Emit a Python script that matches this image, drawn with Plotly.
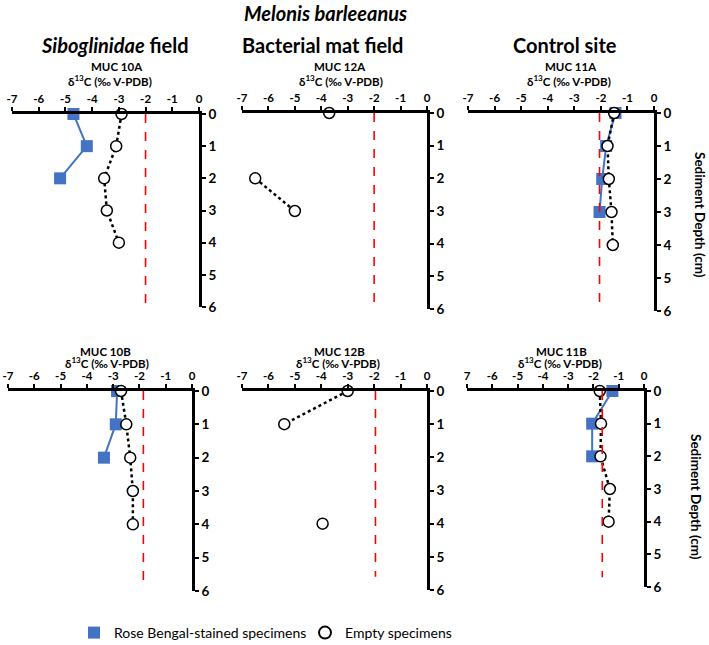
import plotly.graph_objects as go

# ---------------- data ----------------
depths = [0, 1, 2, 3, 4]

cores = ["MUC 10A", "MUC 12A", "MUC 11A", "MUC 10B", "MUC 12B", "MUC 11B"]

stained_10A = [-4.7, -4.2, -5.2, None, None]
empty_10A = [-2.9, -3.1, -3.55, -3.45, -3.0]

stained_12A = [None, None, None, None, None]
empty_12A = [-3.7, None, -6.5, -5.0, None]

stained_11A = [-1.45, -1.8, -1.95, -2.05, None]
empty_11A = [-1.5, -1.75, -1.7, -1.6, -1.55]

stained_10B = [-2.85, -2.9, -3.35, None, None]
empty_10B = [-2.7, -2.5, -2.35, -2.25, -2.25]

stained_12B = [None, None, None, None, None]
empty_12B = [-3.0, -5.4, None, None, -3.95]

stained_11B = [-1.25, -2.05, -2.05, None, None]
empty_11B = [-1.75, -1.7, -1.72, -1.35, -1.4]

stained_all = [stained_10A, stained_12A, stained_11A, stained_10B, stained_12B, stained_11B]
empty_all = [empty_10A, empty_12A, empty_11A, empty_10B, empty_12B, empty_11B]

# reference (dashed red) values and the depth where the dashed line ends
ref_values = [-2.0, -2.0, -2.05, -1.85, -1.95, -1.65]
ref_end_depth = [5.9, 5.85, 5.8, 5.7, 5.6, 5.7]

x_tickvals = [-7, -6, -5, -4, -3, -2, -1, 0]
x_ticktext = ["-7", "-6", "-5", "-4", "-3", "-2", "-1", "0"]
x_ticktext_11B = ["7", "-6", "-5", "-4", "-3", "-2", "-1", "0"]
y_tickvals = [0, 1, 2, 3, 4, 5, 6]

column_titles = ["<b><i>Siboglinidae</i> field</b>", "<b>Bacterial mat field</b>", "<b>Control site</b>"]
main_title = "<b><i>Melonis barleeanus</i></b>"
x_title = "<b>δ<sup>13</sup>C (‰ V-PDB)</b>"
y_title = "<b>Sediment Depth (cm)</b>"
legend_names = ["Rose Bengal-stained specimens", "Empty specimens"]

# ---------------- layout helpers ----------------
W, H = 709, 645


def px(x):
    return x / W


def py(y):
    return 1 - y / H


# panel boxes in screen pixels: (left, right, top, bottom)
boxes = [(12, 199, 114, 307), (242, 427, 113, 309), (468, 654, 113, 311),
         (8, 192, 391, 591), (242, 427, 391, 590), (467, 644, 391, 587)]

BLUE = "#4472C4"
FONT = "Lato"

fig = go.Figure()

for i in range(6):
    n = i + 1
    xa = "x" if n == 1 else f"x{n}"
    ya = "y" if n == 1 else f"y{n}"
    # stained
    fig.add_trace(go.Scatter(
        x=stained_all[i], y=depths, xaxis=xa, yaxis=ya, mode="lines+markers",
        line=dict(color=BLUE, width=2), connectgaps=False,
        marker=dict(symbol="square", size=12, color=BLUE, line=dict(width=0)),
        cliponaxis=False, showlegend=False, hoverinfo="skip"))
    # empty
    fig.add_trace(go.Scatter(
        x=empty_all[i], y=depths, xaxis=xa, yaxis=ya, mode="lines+markers",
        line=dict(color="black", width=2.5, dash="dot"), connectgaps=False,
        marker=dict(symbol="circle", size=11, color="white", line=dict(color="black", width=1.5)),
        cliponaxis=False, showlegend=False, hoverinfo="skip"))
    # reference dashed line
    fig.add_trace(go.Scatter(
        x=[ref_values[i], ref_values[i]], y=[0, ref_end_depth[i]], xaxis=xa, yaxis=ya,
        mode="lines", line=dict(color="#FF0000", width=1.6, dash="dash"),
        cliponaxis=False, showlegend=False, hoverinfo="skip"))

# legend dummies
fig.add_trace(go.Scatter(x=[None], y=[None], mode="markers", name=legend_names[0],
                         marker=dict(symbol="square", size=15, color=BLUE)))
fig.add_trace(go.Scatter(x=[None], y=[None], mode="markers", name=legend_names[1],
                         marker=dict(symbol="circle", size=15, color="white",
                                     line=dict(color="black", width=1.2))))

layout = dict(
    template="none",
    width=W, height=H, margin=dict(l=0, r=0, t=0, b=0, pad=0, autoexpand=False),
    paper_bgcolor="white", plot_bgcolor="white",
    font=dict(family=FONT, color="black"),
    showlegend=True,
    legend=dict(orientation="h", x=px(74), y=py(633), xanchor="left", yanchor="middle",
                entrywidth=186, entrywidthmode="pixels",
                font=dict(size=14, family=FONT), itemsizing="constant", bgcolor="rgba(0,0,0,0)"),
)

for i in range(6):
    n = i + 1
    l, r, t, b = boxes[i]
    xk = "xaxis" if n == 1 else f"xaxis{n}"
    yk = "yaxis" if n == 1 else f"yaxis{n}"
    ya = "y" if n == 1 else f"y{n}"
    xa = "x" if n == 1 else f"x{n}"
    layout[xk] = dict(
        domain=[px(l), px(r)], anchor=ya, side="top", range=[-7, 0],
        tickvals=x_tickvals, ticktext=(x_ticktext_11B if i == 5 else x_ticktext),
        showline=True, linecolor="black", linewidth=2.5, ticks="outside", ticklen=4,
        tickwidth=2, tickcolor="black", showgrid=False, zeroline=False, automargin=False,
        ticklabeloverflow="allow",
        tickfont=dict(size=11.5, family=FONT, weight="bold"), fixedrange=True)
    layout[yk] = dict(
        domain=[py(b), py(t)], anchor=xa, side="right", range=[6, 0],
        tickvals=y_tickvals, showline=True, linecolor="black", linewidth=2.5,
        ticks="outside", ticklen=4, tickwidth=2, tickcolor="black",
        showgrid=False, zeroline=False, automargin=False, ticklabeloverflow="allow",
        tickfont=dict(size=13.5, family=FONT, weight="bold"), fixedrange=True)

fig.update_layout(**layout)

ann = []


def add_text(text, x, y, size, angle=0):
    ann.append(dict(text=text, x=px(x), y=py(y), xref="paper", yref="paper",
                    showarrow=False, xanchor="center", yanchor="middle",
                    textangle=angle, font=dict(size=size, family=FONT, color="black")))


add_text(main_title, 325, 13, 20)
add_text(column_titles[0], 115, 45, 20)
add_text(column_titles[1], 322, 45, 20)
add_text(column_titles[2], 565, 45, 20)

core_pos = [(117, 67, 110, 80), (340, 67, 341, 80), (571, 67, 569, 80),
            (106, 351, 107, 362), (339, 351, 338, 362), (561, 351, 560, 362)]
for i in range(6):
    cx, cy, tx, ty = core_pos[i]
    add_text(f"<b>{cores[i]}</b>", cx, cy, 11.5)
    add_text(x_title, tx, ty, 11.5)

add_text(y_title, 700, 215, 13.5, angle=90)
add_text(y_title, 696, 497, 13.5, angle=90)

fig.update_layout(annotations=ann)

# remove the browser's default 8px body margin so the figure fills the window
fig.write_html("out.html", config={"displayModeBar": False},
               post_script="document.body.style.margin='0';")
